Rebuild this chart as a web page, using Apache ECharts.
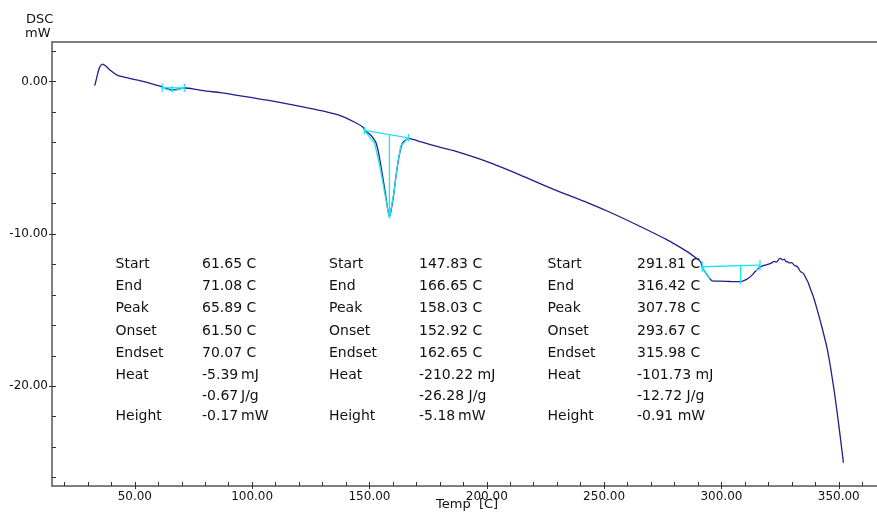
<!DOCTYPE html>
<html>
<head>
<meta charset="utf-8">
<script src="https://cdn.jsdelivr.net/npm/echarts@6/dist/echarts.min.js"></script>
<style>
  html, body { margin: 0; padding: 0; background: #fff; }
  #chart { width: 877px; height: 512px; }
</style>
</head>
<body>
<div id="chart"></div>
<script>
// DSC curve, [temp C, mW]
var dscCurve = [
  [32.9, -0.26], [33.5, 0.1], [34.2, 0.55], [35.0, 0.95], [36.1, 1.16], [37.5, 1.05],
  [39.5, 0.75], [42.5, 0.44], [46.0, 0.28], [49.5, 0.16], [53.0, 0.04], [56.6, -0.1],
  [60.0, -0.25], [62.3, -0.37], [64.0, -0.47], [66.0, -0.55], [68.0, -0.5], [70.0, -0.44],
  [71.6, -0.41], [76.0, -0.5], [80.0, -0.6], [86.5, -0.72], [93.0, -0.88], [100.0, -1.05],
  [110.0, -1.3], [120.0, -1.6], [130.0, -1.92], [137.6, -2.23], [143.3, -2.63], [147.1, -2.97],
  [148.3, -3.22], [150.5, -3.5], [152.6, -3.94], [153.8, -4.6], [154.7, -5.36], [155.8, -6.4],
  [156.8, -7.33], [157.7, -8.3], [158.4, -8.8], [158.8, -8.75], [159.5, -8.2], [160.4, -7.33],
  [161.2, -6.3], [162.1, -5.36], [163.0, -4.6], [164.0, -4.04], [165.3, -3.85], [166.8, -3.72],
  [170.0, -3.85], [171.7, -3.94], [180.3, -4.31], [185.9, -4.53], [200.1, -5.25], [214.3, -6.13],
  [228.5, -7.07], [242.8, -7.94], [251.3, -8.49], [264.1, -9.41], [276.9, -10.39], [285.4, -11.16],
  [288.5, -11.5], [291.1, -11.82], [291.8, -12.15], [293.5, -12.6], [295.3, -12.97], [296.0, -13.08],
  [300.0, -13.1], [304.0, -13.12], [308.2, -13.13], [310.5, -13.0], [312.4, -12.8], [314.5, -12.45],
  [316.7, -12.15], [318.5, -12.05], [321.0, -11.93], [322.5, -11.8], [323.5, -11.85], [324.5, -11.65],
  [325.2, -11.6], [326.0, -11.7], [326.8, -11.65], [327.5, -11.8], [328.1, -11.82], [329.0, -11.9],
  [330.0, -11.88], [331.0, -12.05], [332.4, -12.15], [333.2, -12.35], [333.8, -12.48], [335.0, -12.6],
  [336.0, -12.9], [337.0, -13.2], [338.1, -13.68], [339.4, -14.22], [340.5, -14.8], [342.4, -15.86],
  [345.2, -17.62], [348.0, -20.24], [350.1, -22.65], [352.0, -25.02]
];

// peak analysis marks (cyan): baselines, end ticks, peak verticals, tangents
var peakSegments = [
  [[61.65, -0.39], [71.08, -0.40]],
  [[61.65, -0.12], [61.65, -0.68]],
  [[71.08, -0.12], [71.08, -0.68]],
  [[65.89, -0.28], [65.89, -0.7]],
  [[61.65, -0.39], [63.5, -0.5], [65.89, -0.6], [68.5, -0.52], [71.08, -0.40]],

  [[147.83, -3.2], [166.65, -3.68]],
  [[147.83, -2.95], [147.83, -3.45]],
  [[166.65, -3.43], [166.65, -3.93]],
  [[158.5, -3.45], [158.5, -8.95]],
  [[147.83, -3.2], [152.2, -4.05], [154.5, -5.6], [156.6, -7.4], [158.5, -8.95]],
  [[158.5, -8.95], [160.4, -7.3], [162.0, -5.4], [163.4, -4.2], [166.65, -3.68]],

  [[291.81, -12.15], [316.42, -12.05]],
  [[291.81, -11.8], [291.81, -12.5]],
  [[316.42, -11.7], [316.42, -12.4]],
  [[308.2, -12.1], [308.2, -13.3]],
  [[291.81, -12.15], [293.5, -12.6], [295.3, -12.97]],
  [[314.8, -12.4], [316.42, -12.05]]
];

var xMinorTicks = [20, 30, 40, 50, 60, 70, 80, 90, 100, 110, 120, 130, 140, 150, 160, 170, 180,
  190, 200, 210, 220, 230, 240, 250, 260, 270, 280, 290, 300, 310, 320, 330, 340, 350, 360];
var xMajorTicks = [50, 100, 150, 200, 250, 300, 350];
var yMinorTicks = [-26, -24, -22, -20, -18, -16, -14, -12, -10, -8, -6, -4, -2, 0, 2];
var yMajorTicks = [-20, -10, 0];

var tableLabels = ['Start', 'End', 'Peak', 'Onset', 'Endset', 'Heat', '', 'Height'];
var peak1Values = ['61.65 C', '71.08 C', '65.89 C', '61.50 C', '70.07 C', '-5.39\u2009mJ', '-0.67\u2009J/g', '-0.17\u2009mW'];
var peak2Values = ['147.83 C', '166.65 C', '158.03 C', '152.92 C', '162.65 C', '-210.22 mJ', '-26.28 J/g', '-5.18\u2009mW'];
var peak3Values = ['291.81 C', '316.42 C', '307.78 C', '293.67 C', '315.98 C', '-101.73 mJ', '-12.72 J/g', '-0.91 mW'];

var navy = '#1e1e8c';
var cyan = '#1fe3ef';
var axisGray = '#555';
var font = 'DejaVu Sans';

var chartView = echarts.init(document.getElementById('chart'), null, {renderer: 'canvas'});

var series = [{
  type: 'line',
  data: dscCurve,
  showSymbol: false,
  smooth: 0.2,
  lineStyle: {color: navy, width: 1.3},
  z: 3,
  silent: true
}];
peakSegments.forEach(function (seg) {
  series.push({
    type: 'line',
    data: seg,
    showSymbol: false,
    lineStyle: {color: cyan, width: 1.3},
    z: 4,
    silent: true
  });
});

// table text
var rowY = [264.5, 286.5, 308.8, 331, 353.5, 375.5, 396, 416.7];
var graphics = [];
function addCol(list, x) {
  list.forEach(function (t, i) {
    if (!t) return;
    graphics.push({type: 'text', x: x, y: rowY[i],
      style: {text: t, font: '14px ' + font, fill: '#111', textVerticalAlign: 'middle'}});
  });
}
addCol(tableLabels, 115.5);
addCol(peak1Values, 202);
addCol(tableLabels, 329);
addCol(peak2Values, 419);
addCol(tableLabels, 547.5);
addCol(peak3Values, 637);
graphics.push({type: 'text', x: 26, y: 13, style: {text: 'DSC', font: '13px ' + font, fill: '#111'}});
graphics.push({type: 'text', x: 25, y: 27, style: {text: 'mW', font: '13px ' + font, fill: '#111'}});
graphics.push({type: 'text', x: 436, y: 498, style: {text: 'Temp  [C]', font: '13px ' + font, fill: '#111'}});

var xRange = {min: 14.7, max: 366.3};
var yRange = {min: -26.55, max: 2.61};

chartView.setOption({
  animation: false,
  backgroundColor: '#fff',
  grid: {left: 52, top: 42, right: 0, bottom: 26, containLabel: false},
  xAxis: [{
    type: 'value', min: xRange.min, max: xRange.max, position: 'bottom',
    axisLine: {show: true, onZero: false, lineStyle: {color: axisGray, width: 1.5}},
    axisTick: {show: true, inside: true, length: 4, customValues: xMinorTicks, lineStyle: {color: '#333'}},
    axisLabel: {show: false},
    splitLine: {show: false}
  }, {
    type: 'value', min: xRange.min, max: xRange.max, position: 'bottom',
    axisLine: {show: false, onZero: false},
    axisTick: {show: true, inside: false, length: 3, customValues: xMajorTicks, lineStyle: {color: '#333'}},
    axisLabel: {show: true, customValues: xMajorTicks, margin: 5, color: '#111', fontFamily: font, fontSize: 12,
      formatter: function (v) { return v.toFixed(2); }},
    splitLine: {show: false}
  }, {
    type: 'value', min: xRange.min, max: xRange.max, position: 'top',
    axisLine: {show: true, onZero: false, lineStyle: {color: axisGray, width: 1.5}},
    axisTick: {show: false}, axisLabel: {show: false}, splitLine: {show: false}
  }],
  yAxis: [{
    type: 'value', min: yRange.min, max: yRange.max, position: 'left',
    axisLine: {show: true, onZero: false, lineStyle: {color: axisGray, width: 1.5}},
    axisTick: {show: true, inside: true, length: 4, customValues: yMinorTicks, lineStyle: {color: '#333'}},
    axisLabel: {show: false},
    splitLine: {show: false}
  }, {
    type: 'value', min: yRange.min, max: yRange.max, position: 'left', offset: 0,
    axisLine: {show: false, onZero: false},
    axisTick: {show: true, inside: false, length: 3, customValues: yMajorTicks, lineStyle: {color: '#333'}},
    axisLabel: {show: true, customValues: yMajorTicks, margin: 4, color: '#111', fontFamily: font, fontSize: 12,
      formatter: function (v) { return v.toFixed(2); }},
    splitLine: {show: false}
  }],
  series: series,
  graphic: graphics
});
</script>
</body>
</html>
